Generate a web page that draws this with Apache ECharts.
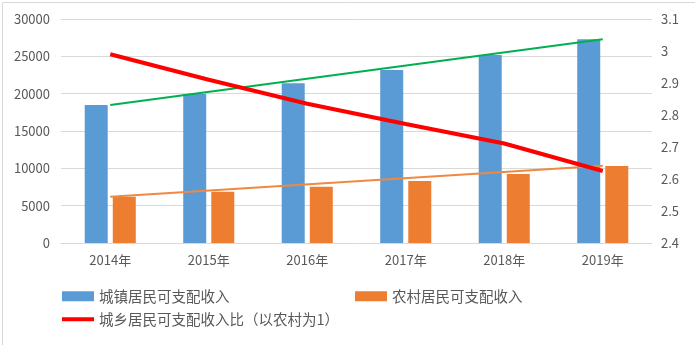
<!DOCTYPE html>
<html><head><meta charset="utf-8">
<script src="https://cdn.jsdelivr.net/npm/echarts@6/dist/echarts.min.js"></script>
<style>html,body{margin:0;padding:0;background:#fff}#c{width:695px;height:345px}</style>
</head><body><div id="c"></div>
<script>
const categories = ['2014年','2015年','2016年','2017年','2018年','2019年'];
const urbanIncome = [18470, 19950, 21380, 23160, 25170, 27300];
const ruralIncome = [6200, 6870, 7540, 8300, 9240, 10300];
const ratio = [2.99, 2.91, 2.835, 2.772, 2.711, 2.625];
const urbanTrend = [18470, null, null, null, null, 27280];
const ruralTrend = [6200, null, null, null, null, 10350];
const leftTicks = {min: 0, max: 30000, interval: 5000};
const rightTicks = {min: 2.4, max: 3.1, interval: 0.1};

const font = '"Noto Sans CJK SC", "Microsoft YaHei", sans-serif';
const legendText = {color: '#595959', fontSize: 14.5, fontFamily: font};
const chart = echarts.init(document.getElementById('c'));
chart.setOption({
  animation: false,
  textStyle: {fontFamily: font},
  graphic: [{type: 'rect', left: 0, top: 0, shape: {x: 0.5, y: 0.5, width: 694, height: 343}, style: {fill: 'none', stroke: '#d9d9d9', lineWidth: 1}, silent: true}],
  grid: {left: 61, right: 43, top: 19, bottom: 102, containLabel: false},
  legend: [
    {data: ['城镇居民可支配收入'], left: 62, top: 289, padding: 0, itemWidth: 32, itemHeight: 10,
     icon: 'rect', textStyle: legendText},
    {data: ['农村居民可支配收入'], left: 355, top: 289, padding: 0, itemWidth: 32, itemHeight: 10,
     icon: 'rect', textStyle: legendText},
    {data: [{name: '城乡居民可支配收入比（以农村为1）', icon: 'rect'}], left: 62, top: 312, padding: 0,
     itemWidth: 32, itemHeight: 4, textStyle: legendText}
  ],
  xAxis: {
    type: 'category', data: categories,
    axisLine: {lineStyle: {color: '#d9d9d9'}}, axisTick: {show: false},
    axisLabel: {color: '#595959', fontSize: 13, margin: 11}
  },
  yAxis: [
    {type: 'value', min: leftTicks.min, max: leftTicks.max, interval: leftTicks.interval,
     axisLine: {show: false}, axisTick: {show: false},
     axisLabel: {color: '#595959', fontSize: 13, margin: 11, formatter: v => String(v)},
     splitLine: {lineStyle: {color: '#d9d9d9'}}},
    {type: 'value', min: rightTicks.min, max: rightTicks.max, interval: rightTicks.interval,
     axisLine: {show: false}, axisTick: {show: false},
     axisLabel: {color: '#595959', fontSize: 13, margin: 9, formatter: v => String(+v.toFixed(1))},
     splitLine: {show: false}}
  ],
  series: [
    {name: '城镇居民可支配收入', type: 'bar', data: urbanIncome, barWidth: 23, barGap: '22%',
     itemStyle: {color: '#5B9BD5'}},
    {name: '农村居民可支配收入', type: 'bar', data: ruralIncome, barWidth: 23,
     itemStyle: {color: '#ED7D31'}},
    {name: 'urbanTrend', type: 'line', data: urbanTrend, connectNulls: true, showSymbol: false,
     lineStyle: {color: '#00B050', width: 2}, itemStyle: {color: '#00B050'}, z: 3},
    {name: 'ruralTrend', type: 'line', data: ruralTrend, connectNulls: true, showSymbol: false,
     lineStyle: {color: '#F0893F', width: 2}, itemStyle: {color: '#F0893F'}, z: 3},
    {name: '城乡居民可支配收入比（以农村为1）', type: 'line', yAxisIndex: 1, data: ratio, showSymbol: false,
     lineStyle: {color: '#FF0000', width: 4}, itemStyle: {color: '#FF0000'}, z: 4}
  ]
});
</script></body></html>
